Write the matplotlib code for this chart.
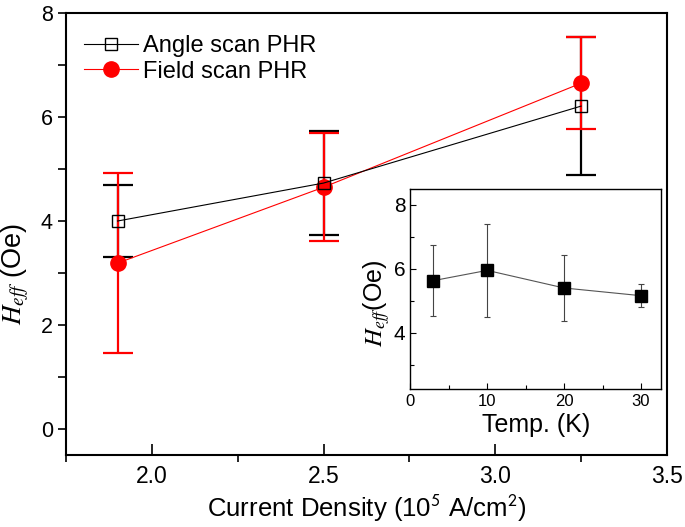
#grafico de H_eff em funcao da densidade de corrente
#com inset de H_eff em funcao da temperatura
import numpy as np
import matplotlib.pyplot as plt
from matplotlib.ticker import MultipleLocator

#dados
densidade = [1.9, 2.5, 3.25]
angulo_h = [4.0, 4.73, 6.21]
angulo_err = [0.70, 1.00, 1.33]
campo_h = [3.19, 4.65, 6.65]
campo_err = [1.73, 1.04, 0.88]

temp = [3, 10, 20, 30]
temp_h = [5.63, 5.95, 5.40, 5.16]
temp_err = [1.10, 1.46, 1.04, 0.36]

plt.rcParams['font.family'] = 'Liberation Sans'
plt.rcParams['mathtext.fontset'] = 'stix'

fig = plt.figure(figsize=(6.85, 5.27), dpi=100)
ax = fig.add_axes([0.0964, 0.1366, 0.8773, 0.8387])

#barras de erro
ax.errorbar(densidade, angulo_h, yerr=angulo_err, fmt='none', ecolor='black',
            elinewidth=1.6, capsize=11, capthick=1.6, zorder=2)
ax.errorbar(densidade, campo_h, yerr=campo_err, fmt='none', ecolor='red',
            elinewidth=1.6, capsize=11, capthick=1.6, zorder=3)
#linhas e marcadores
ax.plot(densidade, angulo_h, color='black', lw=0.8, marker='s', ms=8.5,
        mfc='none', mec='black', mew=1.0, label='Angle scan PHR', zorder=5)
ax.plot(densidade, campo_h, color='red', lw=0.8, marker='o', ms=11,
        mfc='red', mec='red', label='Field scan PHR', zorder=4)

ax.set_xlim(1.75, 3.5)
ax.set_ylim(-0.5, 8)
ax.xaxis.set_major_locator(MultipleLocator(0.5))
ax.xaxis.set_minor_locator(MultipleLocator(0.25))
ax.yaxis.set_major_locator(MultipleLocator(2))
ax.yaxis.set_minor_locator(MultipleLocator(1))
ax.tick_params(axis='x', which='major', direction='in', length=8, width=1.2)
ax.tick_params(axis='x', which='minor', direction='out', length=5, width=1.2)
ax.tick_params(axis='y', which='both', direction='out', width=1.2, length=6)
ax.tick_params(axis='y', labelsize=15.5)
ax.tick_params(axis='x', labelsize=16.5, pad=7)
for s in ax.spines.values():
    s.set_linewidth(1.5)

ax.set_xlabel('Current Density (10$^{\\mathsf{5}}$ A/cm$^{\\mathsf{2}}$)', fontsize=18.5,
              labelpad=4)
ax.set_ylabel('$H_{eff}$ (Oe)', fontsize=19.5)
ax.yaxis.set_label_coords(-0.058, 0.41)

ax.legend(loc='upper left', bbox_to_anchor=(0.0, 0.99), frameon=False, fontsize=17,
          handlelength=2.3, handletextpad=0.2, labelspacing=0.15, borderaxespad=0.35)

#inset
axi = fig.add_axes([0.599, 0.262, 0.366, 0.380])
axi.errorbar(temp, temp_h, yerr=temp_err, fmt='none', ecolor='#444444',
             elinewidth=0.8, capsize=2.5, capthick=0.8, zorder=2)
axi.plot(temp, temp_h, color='#555555', lw=0.8, marker='s', ms=9,
         mfc='black', mec='black', zorder=3)
axi.set_xlim(0, 32.6)
axi.set_ylim(2.25, 8.5)
axi.xaxis.set_major_locator(MultipleLocator(10))
axi.xaxis.set_minor_locator(MultipleLocator(5))
axi.yaxis.set_major_locator(MultipleLocator(2))
axi.yaxis.set_minor_locator(MultipleLocator(1))
axi.tick_params(which='both', direction='in', width=0.8)
axi.tick_params(which='major', length=4)
axi.tick_params(which='minor', length=3)
axi.tick_params(axis='y', labelsize=15)
axi.tick_params(axis='x', labelsize=12)
for s in axi.spines.values():
    s.set_linewidth(1.0)
axi.set_xlabel('Temp. (K)', fontsize=18, labelpad=3)
axi.set_ylabel('$H_{eff}$(Oe)', fontsize=18)
axi.yaxis.set_label_coords(-0.075, 0.43)

plt.savefig('out.png', dpi=100)
